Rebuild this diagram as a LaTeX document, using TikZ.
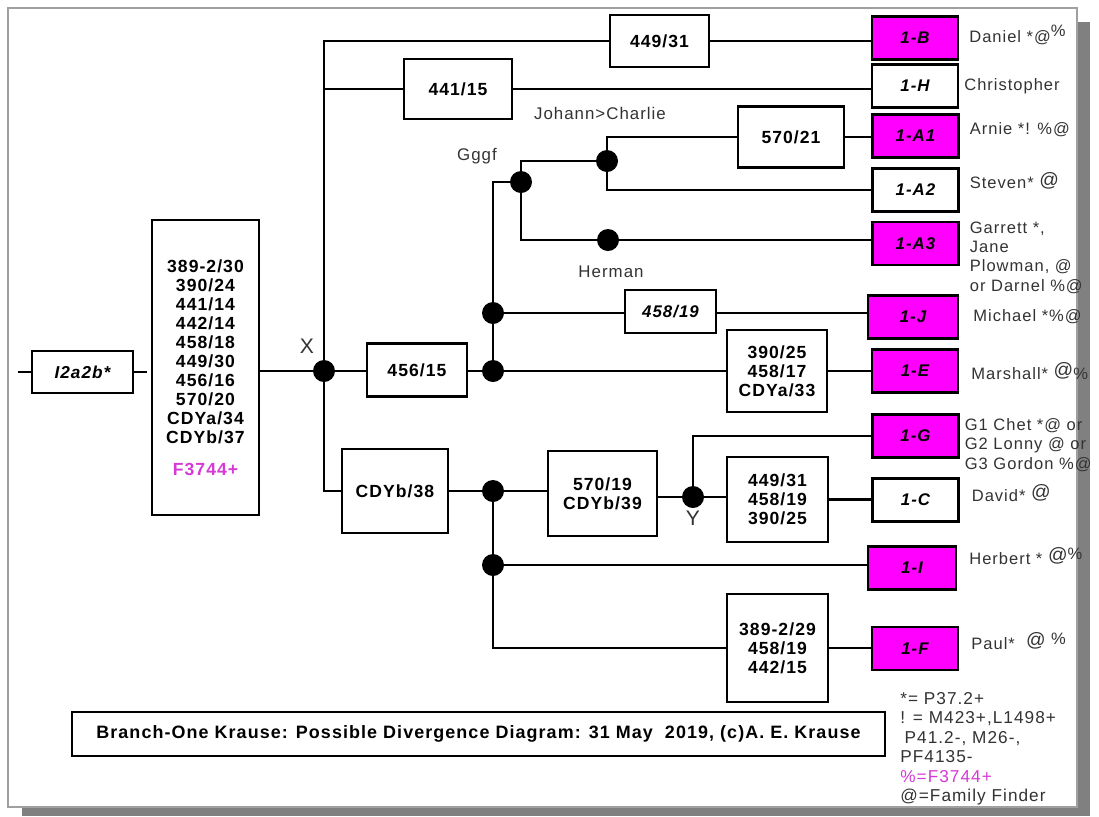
\documentclass[tikz,border=0pt]{standalone}
\usepackage{fontspec}
\setmainfont{Liberation Sans}[LetterSpace=6]
\usepackage{xcolor}
\definecolor{HapPink}{HTML}{FF00FF}
\definecolor{SnpPink}{HTML}{D63AD6}
\definecolor{NameGray}{HTML}{333333}
\definecolor{FrameGray}{HTML}{A0A0A0}
\definecolor{ShadowGray}{HTML}{808080}
\usetikzlibrary{positioning}
\newcommand{\atbig}{\raisebox{1.5pt}{\fontsize{11}{11}\selectfont @}}
\newcommand{\pcup}{\raisebox{3pt}{\%}}

\begin{document}
\begin{tikzpicture}[
  x=0.02cm, y=-0.02cm,
  box/.style={
    rectangle, draw=black, line width=1.2pt, fill=white,
    font=\fontsize{10}{10.8}\selectfont\bfseries,
    align=center, inner sep=1pt,
  },
  hap/.style={
    box, font=\fontsize{9.6}{11}\selectfont\bfseries\itshape,
    minimum width=1.72cm, minimum height=0.86cm,
  },
  pink/.style={hap, fill=HapPink},
  dot/.style={circle, fill=black, inner sep=0pt, minimum size=0.44cm},
  wire/.style={line width=1.3pt},
  who/.style={font=\fontsize{9.4}{11}\selectfont, text=NameGray,
              align=left, inner sep=0pt},
  tag/.style={font=\fontsize{9.6}{11}\selectfont, text=NameGray, inner sep=0pt},
  letter/.style={font=\fontsize{12}{12}\selectfont, text=NameGray, inner sep=0pt},
]
  \useasboundingbox (0,0) rectangle (1099,816);
  \fill[white] (0,0) rectangle (1099,816);
  \fill[ShadowGray] (22,22) rectangle (1090,816);
  \draw[FrameGray, line width=0.6pt, fill=white] (8,8) rectangle (1077,807);

  % root and ancestral values
  \node[box, font=\fontsize{9.8}{11}\selectfont\bfseries\itshape,
        minimum width=2.02cm, minimum height=0.84cm] (root) at (82.5,372) {I2a2b*};
  \coordinate (rootin)  at (18,372);
  \coordinate (rootout) at (147,372);
  \node[box, minimum width=2.14cm, minimum height=5.9cm] (base) at (205.5,367.5)
    {389-2/30\\390/24\\441/14\\442/14\\458/18\\449/30\\456/16\\570/20\\CDYa/34\\CDYb/37\\[0.26cm]
     \textcolor{SnpPink}{F3744+}};

  % branch points
  \node[dot] (x)      at (324,371) {};
  \node[dot] (e)      at (493,371) {};
  \node[dot] (j)      at (493,313) {};
  \node[dot] (gggf)   at (521,182) {};
  \node[dot] (johann) at (607,161) {};
  \node[dot] (herman) at (608,240) {};
  \node[dot] (l)      at (493,491) {};
  \node[dot] (y)      at (693,497) {};
  \node[dot] (i)      at (493,565) {};

  \node[letter] (xlbl) at (307,346) {X};
  \node[letter] (ylbl) at (693,518) {Y};
  \node[tag] (gggflbl)   at (477,156) {Gggf};
  \node[tag] (johannlbl) at (600,113) {Johann>Charlie};
  \node[tag] (hermanlbl) at (611,272) {Herman};

  % mutation boxes
  \node[box, minimum width=1.98cm, minimum height=1.04cm] (m449a) at (659.5,41) {449/31};
  \node[box, minimum width=2.16cm, minimum height=1.2cm]  (m441)  at (458,89) {441/15};
  \node[box, minimum width=2.12cm, minimum height=1.22cm] (m570a) at (791,137) {570/21};
  \node[box, font=\fontsize{9.6}{11}\selectfont\bfseries\itshape,
        minimum width=1.82cm, minimum height=0.86cm]      (m458)  at (670.5,311.5) {458/19};
  \node[box, minimum width=2cm, minimum height=1.06cm]    (m456)  at (417,370) {456/15};
  \node[box, minimum width=2cm, minimum height=1.64cm]    (m390)  at (777,371) {390/25\\458/17\\CDYa/33};
  \node[box, minimum width=2.12cm, minimum height=1.68cm] (m38)   at (395,491) {CDYb/38};
  \node[box, minimum width=2.18cm, minimum height=1.7cm]  (m570b) at (602.5,493.5) {570/19\\CDYb/39};
  \node[box, minimum width=2.02cm, minimum height=1.7cm]  (m449b) at (777.5,499.5) {449/31\\458/19\\390/25};
  \node[box, minimum width=2.02cm, minimum height=2.16cm] (m389)  at (777.5,648) {389-2/29\\458/19\\442/15};

  % lineages
  \node[pink] (hB)  at (915,38)    {1-B};
  \node[hap]  (hH)  at (915,86)    {1-H};
  \node[pink] (hA1) at (915.5,136) {1-A1};
  \node[hap]  (hA2) at (915.5,190) {1-A2};
  \node[pink] (hA3) at (915.5,243.5) {1-A3};
  \node[pink, minimum width=1.8cm] (hJ) at (913,317) {1-J};
  \node[pink] (hE)  at (915,371)   {1-E};
  \node[pink] (hG)  at (915.5,436) {1-G};
  \node[hap]  (hC)  at (915.5,500) {1-C};
  \node[pink, minimum width=1.76cm] (hI) at (912,568) {1-I};
  \node[pink] (hF)  at (915,648.5) {1-F};

  \node[who, right=0.2cm of hB, yshift=0.06cm]  (nB)  {Daniel *@\pcup};
  \node[who, right=0.1cm of hH]                 (nH)  {Christopher};
  \node[who, right=0.2cm of hA1, yshift=0.12cm] (nA1) {Arnie *! \%@};
  \node[who, right=0.2cm of hA2, yshift=0.19cm] (nA2) {Steven* \atbig};
  \node[who, right=0.2cm of hA3, yshift=-0.28cm] (nA3) {Garrett *,\\Jane\\Plowman, @\\or Darnel \%@};
  \node[who, right=0.28cm of hJ]                (nJ)  {Michael *\%@};
  \node[who, right=0.24cm of hE]                (nE)  {Marshall* \atbig\%};
  \node[who, right=0.1cm of hG, yshift=-0.18cm] (nG)  {G1 Chet *@ or\\G2 Lonny @ or\\G3 Gordon \%@};
  \node[who, right=0.24cm of hC, yshift=0.14cm] (nC)  {David* \atbig};
  \node[who, right=0.24cm of hI, yshift=0.24cm] (nI)  {Herbert * \atbig\pcup};
  \node[who, right=0.24cm of hF, yshift=0.15cm] (nF)  {Paul*\ \ \atbig\ \pcup};

  % key and caption
  \node[who, font=\fontsize{9.8}{11.1}\selectfont, anchor=north west] (key) at (900,692)
    {*= P37.2+\\! = M423+,L1498+\\\hspace{0.25em}P41.2-, M26-,\\PF4135-\\%
     \textcolor{SnpPink}{\%=F3744+}\\@=Family Finder};
  \node[box, line width=1.6pt, font=\fontsize{10.2}{12}\selectfont\bfseries,
        minimum width=16.26cm, minimum height=0.88cm] (caption) at (478.5,734)
    {Branch-One Krause: Possible Divergence Diagram: 31 May\ \ 2019, (c)A. E. Krause};

  % connections
  \draw[wire] (rootin) -- (root.west) (root.east) -- (rootout);
  \draw[wire] (x -| base.east) -- (x);
  \draw[wire] (x) |- (m449a.west);
  \draw[wire] (x |- m441.west) -- (m441.west);
  \draw[wire] (x) |- (m38.west);
  \draw[wire] (x) -- (x -| m456.west);
  \draw[wire] (m449a.east) -- (m449a.east -| hB.west);
  \draw[wire] (m441.east) -- (m441.east -| hH.west);
  \draw[wire] (e -| m456.east) -- (e);
  \draw[wire] (e) -- (e -| m390.west);
  \draw[wire] (e -| m390.east) -- (e -| hE.west);
  \draw[wire] (e) -- (j);
  \draw[wire] (j) |- (gggf);
  \draw[wire] (j) -- (j -| m458.west);
  \draw[wire] (j -| m458.east) -- (j -| hJ.west);
  \draw[wire] (gggf) |- (johann);
  \draw[wire] (gggf) |- (herman);
  \draw[wire] (herman) -- (herman -| hA3.west);
  \draw[wire] (johann) |- (m570a.west);
  \draw[wire] (m570a.east) -- (m570a.east -| hA1.west);
  \draw[wire] (johann) |- (hA2.west);

  \draw[wire] (l -| m38.east) -- (l);
  \draw[wire] (l) -- (l -| m570b.west);
  \draw[wire] (y -| m570b.east) -- (y);
  \draw[wire] (y) -- (y -| m449b.west);
  \draw[wire] (y) |- (hG.west);
  \draw[wire] (m449b.east) -- (m449b.east -| hC.west);
  \draw[wire] (l) -- (i);
  \draw[wire] (i) -- (i -| hI.west);
  \draw[wire] (i) |- (m389.west);
  \draw[wire] (m389.east) -- (m389.east -| hF.west);
\end{tikzpicture}
\end{document}
